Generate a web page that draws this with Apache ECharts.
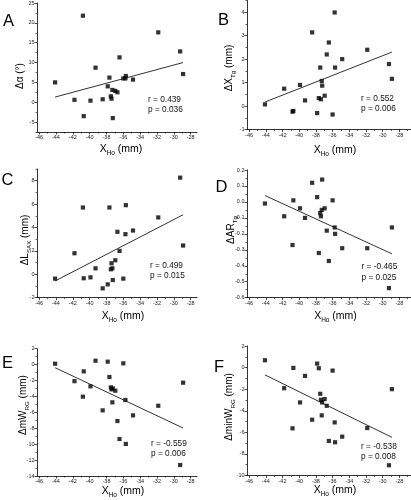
<!DOCTYPE html>
<html><head><meta charset="utf-8">
<script src="https://cdn.jsdelivr.net/npm/echarts@6/dist/echarts.min.js"></script>
<style>html,body{margin:0;padding:0;background:#fff}#c{width:411px;height:500px}</style>
</head><body><div id="c"></div>
<script>
// shared predictor X_Ho (mm)
const xHo = [-44.1,-41.8,-40.8,-40.7,-39.9,-39.3,-38.45,-37.85,-37.65,-37.48,-37.4,-37.3,-37.25,-36.95,-36.7,-36.45,-36.0,-35.75,-35.7,-34.85,-31.85,-29.25,-28.9];
// responses
const yA = [5.0,0.6,21.8,-3.5,0.4,8.7,0.75,4.0,6.2,1.5,0.9,3.1,-4.0,2.85,2.5,11.3,6.0,6.0,6.6,5.7,17.6,12.8,7.1];
const yB = [0.07,0.74,-0.24,-0.21,0.9,0.24,3.14,-0.3,0.34,1.64,0.29,1.07,0.87,0.44,2.2,2.71,-0.36,3.99,1.64,2.0,2.4,1.79,1.16];
const yC = [-0.37,1.8,5.71,-0.34,-0.26,0.51,-1.2,-0.86,5.71,0.43,0.94,0.51,-0.49,1.2,3.63,2.0,-0.37,3.43,5.91,3.74,4.86,8.26,2.46];
const yD = [-0.01,-0.09,-0.27,0.01,-0.04,-0.1,0.12,0.03,-0.32,-0.07,-0.09,-0.05,0.14,-0.04,-0.18,-0.37,0.01,-0.16,-0.2,-0.29,-0.29,-0.54,-0.16];
const yE = [0.11,-2.08,-4.03,-0.85,-2.73,0.49,-5.75,0.37,-1.56,-2.86,-3.11,-4.74,-2.99,-3.28,-7.09,-9.35,0.16,-4.45,-9.97,-6.38,-5.17,-12.62,-2.27];
const yF = [0.68,-1.91,-5.63,-0.03,-3.23,-0.77,-4.83,0.37,-0.06,-2.43,-2.98,-4.43,-3.23,-2.92,-3.54,-6.8,-0.28,-5.08,-6.92,-6.4,-5.6,-9.05,-2.0];
// regression line end points
const fitX = [-44.1, -28.9];
const fitA = [1.3, 10.0];
const fitB = [0.17, 2.3];
const fitC = [-0.57, 5.09];
const fitD = [0.04, -0.325];
const fitE = [-0.39, -7.97];
const fitF = [-0.68, -6.46];
// statistics text
const statR = ['r = 0.439','r = 0.552','r = 0.499','r = -0.465','r = -0.559','r = -0.538'];
const statP = ['p = 0.036','p = 0.006','p = 0.015','p = 0.025','p = 0.006','p = 0.008'];
// tick labels
const xTicks = [-46,-44,-42,-40,-38,-36,-34,-32,-30,-28];
const xMinor = [-45,-43,-41,-39,-37,-35,-33,-31,-29,-27];
const ticksA = [-5,0,5,10,15,20,25];
const minorA = [-7.5,-2.5,2.5,7.5,12.5,17.5,22.5];
const ticksB = [-1,0,1,2,3,4];
const minorB = [-0.5,0.5,1.5,2.5,3.5,4.5];
const ticksC = [-2,0,2,4,6,8];
const minorC = [-1,1,3,5,7,9];
const ticksD = [-0.6,-0.5,-0.4,-0.3,-0.2,-0.1,0,0.1,0.2];
const minorD = [-0.55,-0.45,-0.35,-0.25,-0.15,-0.05,0.05,0.15];
const ticksE = [-14,-12,-10,-8,-6,-4,-2,0,2];
const minorE = [-13,-11,-9,-7,-5,-3,-1,1];
const ticksF = [-10,-8,-6,-4,-2,0,2];
const minorF = [-9,-7,-5,-3,-1,1];

const FONT = 'Liberation Sans';
const panels = [
  {L:'A', y:yA, fit:fitA, t:ticksA, m:minorA, ymin:-7.5, ymax:25, dec:0, g:[37,2,160,130], xmax:-27.25,
   letter:[8.5,21], stat:[148,99.5,109.5], xt:[121,149], yt:[20,76], ytitle:'{m|Δα (°)}'},
  {L:'B', y:yB, fit:fitB, t:ticksB, m:minorB, ymin:-1, ymax:4.5, dec:0, g:[247,0.5,164,129], xmax:-26.61,
   letter:[223.5,20], stat:[361,99,108.5], xt:[335,150], yt:[229,68], ytitle:'{m|ΔX}{s|Tg}{m| (mm)}'},
  {L:'C', y:yC, fit:fitC, t:ticksC, m:minorC, ymin:-2, ymax:9, dec:0, g:[37,169,160,128.7], xmax:-27.25,
   letter:[7.5,180.5], stat:[150,265.7,276], xt:[123,316.5], yt:[25,240], ytitle:'{m|ΔL}{s|SAX}{m| (mm)}'},
  {L:'D', y:yD, fit:fitD, t:ticksD, m:minorD, ymin:-0.6, ymax:0.2, dec:1, g:[247,170,164,127.7], xmax:-26.61,
   letter:[221.5,187.5], stat:[361.5,266.7,277.7], xt:[335.5,316.5], yt:[231,230], ytitle:'{m|ΔAR}{s|Tg}'},
  {L:'E', y:yE, fit:fitE, t:ticksE, m:minorE, ymin:-14, ymax:2, dec:0, g:[37,348.7,160,127.3], xmax:-27.25,
   letter:[7.5,363.5], stat:[151,443.7,453.3], xt:[123,491], yt:[23,405], ytitle:'{m|ΔmW}{s|RG}{m| (mm)}'},
  {L:'F', y:yF, fit:fitF, t:ticksF, m:minorF, ymin:-10, ymax:2, dec:0, g:[247,346,164,129.5], xmax:-26.61,
   letter:[219,367], stat:[361,446.3,456.7], xt:[335,490], yt:[229,407], ytitle:'{m|ΔminW}{s|RG}{m| (mm)}'}
];

const grid = [], xAxis = [], yAxis = [], series = [], graphic = [];
const axisCol = '#000';
function fmtFn(dec){ return v => { let s = Number(v).toFixed(dec); if (parseFloat(s) === 0) s = (0).toFixed(dec); return s; }; }
const richTitle = (fs) => ({ m:{fontSize:fs, fontFamily:FONT, color:'#1a1a1a'}, s:{fontSize:fs*0.62, fontFamily:FONT, color:'#1a1a1a', padding:[8,0,0,0]} });

panels.forEach((p, i) => {
  grid.push({left:p.g[0], top:p.g[1], width:p.g[2], height:p.g[3], containLabel:false});
  const xmin = -46.25;
  // main x axis
  xAxis.push({gridIndex:i, type:'value', position:'bottom', min:xmin, max:p.xmax,
    axisLine:{show:true, onZero:false, lineStyle:{color:axisCol, width:0.8}},
    axisTick:{show:true, inside:false, length:2.5, lineStyle:{color:axisCol, width:0.7}, customValues:xTicks},
    axisLabel:{show:true, margin:2.5, fontSize:5.5, color:'#222', fontFamily:FONT, customValues:xTicks, formatter:fmtFn(0)},
    splitLine:{show:false}});
  // minor x ticks
  xAxis.push({gridIndex:i, type:'value', position:'bottom', min:xmin, max:p.xmax,
    axisLine:{show:false, onZero:false},
    axisTick:{show:true, inside:false, length:1.5, lineStyle:{color:axisCol, width:0.6}, customValues:xMinor.filter(v=>v<=p.xmax)},
    axisLabel:{show:false}, splitLine:{show:false}});
  yAxis.push({gridIndex:i, type:'value', position:'left', min:p.ymin, max:p.ymax,
    axisLine:{show:true, onZero:false, lineStyle:{color:axisCol, width:0.8}},
    axisTick:{show:true, inside:false, length:2.5, lineStyle:{color:axisCol, width:0.7}, customValues:p.t},
    axisLabel:{show:true, margin:2.5, fontSize:5.5, color:'#222', fontFamily:FONT, customValues:p.t, formatter:fmtFn(p.dec)},
    splitLine:{show:false}});
  yAxis.push({gridIndex:i, type:'value', position:'left', min:p.ymin, max:p.ymax,
    axisLine:{show:false, onZero:false},
    axisTick:{show:true, inside:false, length:1.5, lineStyle:{color:axisCol, width:0.6}, customValues:p.m},
    axisLabel:{show:false}, splitLine:{show:false}});
  series.push({type:'scatter', xAxisIndex:2*i, yAxisIndex:2*i, symbol:'rect', symbolSize:4.2,
    itemStyle:{color:'#000'}, data:xHo.map((x,k)=>[x,p.y[k]]), silent:true});
  series.push({type:'line', xAxisIndex:2*i, yAxisIndex:2*i, showSymbol:false, symbol:'none',
    lineStyle:{color:'#1a1a1a', width:0.9}, data:fitX.map((x,k)=>[x,p.fit[k]]), silent:true});

  graphic.push({type:'text', x:p.letter[0], y:p.letter[1], style:{text:p.L, fontSize:16.5, fontFamily:FONT, fill:'#000', align:'center', verticalAlign:'middle'}});
  graphic.push({type:'text', x:p.stat[0], y:p.stat[1], style:{text:statR[i], fontSize:8.3, fontFamily:FONT, fill:'#111', align:'left', verticalAlign:'middle'}});
  graphic.push({type:'text', x:p.stat[0], y:p.stat[2], style:{text:statP[i], fontSize:8.3, fontFamily:FONT, fill:'#111', align:'left', verticalAlign:'middle'}});
  graphic.push({type:'text', x:p.xt[0], y:p.xt[1], style:{text:'{m|X}{s|Ho}{m| (mm)}', rich:richTitle(10.5), align:'center', verticalAlign:'middle'}});
  graphic.push({type:'text', x:p.yt[0], y:p.yt[1], rotation:Math.PI/2, style:{text:p.ytitle, rich:richTitle(10), align:'center', verticalAlign:'middle'}});
});

const chart = echarts.init(document.getElementById('c'), null, {renderer:'canvas'});
chart.setOption({animation:false, backgroundColor:'#fff', grid, xAxis, yAxis, series, graphic});
</script></body></html>
